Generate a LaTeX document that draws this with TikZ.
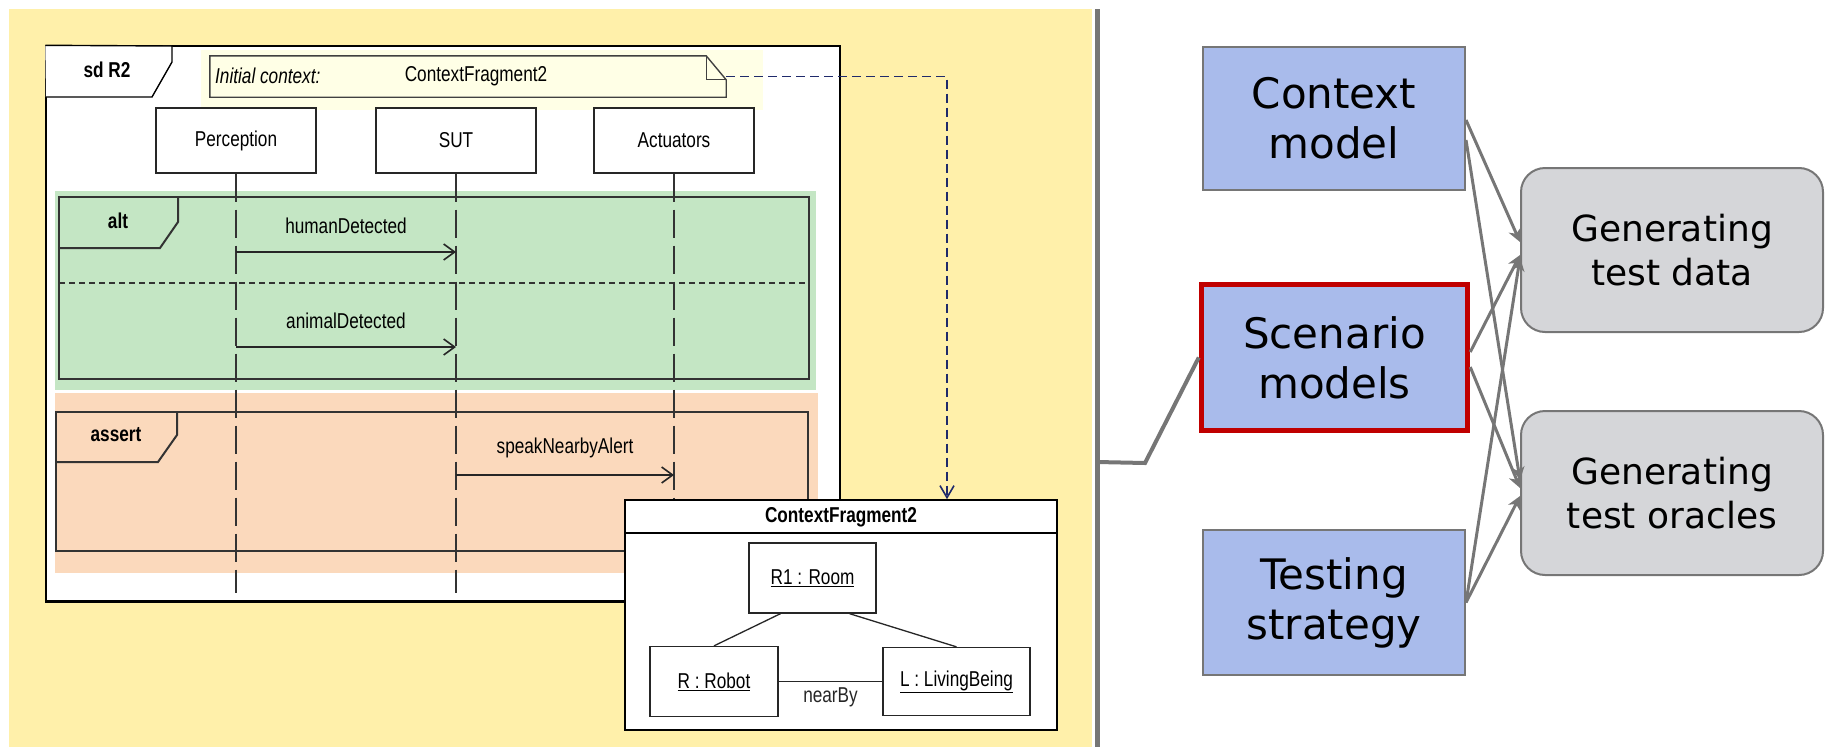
\documentclass[tikz,border=0pt]{standalone}
\usepackage{fontspec}
\usetikzlibrary{arrows.meta}
\newfontfamily\umlfont[FakeStretch=0.80]{Liberation Sans}
\newfontfamily\slidefont{DejaVu Sans}
\definecolor{slideyellow}{HTML}{FFF0AA}
\definecolor{altgreen}{HTML}{C4E6C4}
\definecolor{assertorange}{HTML}{FBD9BC}
\definecolor{notepale}{HTML}{FFFFE6}
\definecolor{modelblue}{HTML}{A9BBEB}
\definecolor{stepgray}{HTML}{D5D6D9}
\definecolor{linegray}{HTML}{767676}
\definecolor{focusred}{HTML}{C00000}
\definecolor{tracenavy}{HTML}{1F2A6B}

\begin{document}
\begin{tikzpicture}[
					x=1pt,y=-1pt,
					umltxt/.style={font=\umlfont\fontsize{21.5}{25}\selectfont,inner sep=0pt},
					umlbold/.style={umltxt,font=\umlfont\bfseries\fontsize{21.5}{25}\selectfont},
					lifehead/.style={umltxt,draw=black!85,line width=1.3pt,fill=white,minimum width=160pt,minimum height=65pt},
					lifeline/.style={draw=black!80,line width=1.2pt,dash pattern=on 28pt off 8pt},
					msg/.style={draw=black!85,line width=1.6pt,-{Straight Barb[length=11pt,width=16pt]}},
					fragline/.style={draw=black!80,line width=2pt},
					objbox/.style={umltxt,draw=black!85,line width=1.3pt,fill=white},
					modelbox/.style={draw=linegray,line width=2pt,fill=modelblue,align=center,font=\slidefont\fontsize{42}{50}\selectfont},
					genbox/.style={draw=linegray,line width=2pt,fill=stepgray,rounded corners=24pt,align=center,minimum width=302pt,minimum height=164pt,font=\slidefont\fontsize{36}{44}\selectfont},
					feed/.style={draw=linegray,line width=3pt,-{Stealth[length=13pt,width=13pt,inset=4pt]}}
					]
					\useasboundingbox (0,0) rectangle (1825,747);
					\fill[slideyellow] (9,9) rectangle (1092,747);
					% sequence diagram
					\node[draw=black,line width=1.4pt,fill=white,minimum width=794pt,minimum height=555pt,inner sep=0pt] (frame) at (443,323.5) {};
					\draw[line width=2.5pt] (frame.south west) -- (frame.south east);
					\fill[notepale] (201,50) rectangle (763,110);
					\draw[line width=1.4pt,fill=white] (frame.north west) -- (172,46) -- (172,62) -- (152,97) -- (46,97);
					\node[umlbold] (sdlbl) at (107,70) {sd R2};
					\node[minimum width=516pt,minimum height=41pt,inner sep=0pt] (note) at (468,76.5) {};
					\draw[black!75,line width=1.4pt,fill=notepale] (note.south west) -- (note.north west) -- ([xshift=-20pt]note.north east) -- ([yshift=-24pt]note.north east) -- (note.south east) -- cycle;
					\draw[black!75,line width=1.2pt] ([xshift=-20pt]note.north east) -- ([xshift=-20pt,yshift=-24pt]note.north east) -- ([yshift=-24pt]note.north east);
					\node[umltxt,font=\umlfont\itshape\fontsize{21.5}{25}\selectfont,anchor=west] (ictx) at (215,76) {Initial context:};
					\node[umltxt] (nfrag) at (476,76) {ContextFragment2};
					% fragments
					\fill[altgreen] (55,191) rectangle (816,390);
					\fill[assertorange] (55,393) rectangle (818,573);
					\draw[fragline] (59,197) rectangle (809,379);
					\draw[fragline] (59,248) -- (160,248) -- (178,222) -- (178,197);
					\node[umlbold] (altlbl) at (118,221) {alt};
					\draw[fragline,dash pattern=on 6pt off 4pt] (59,283) -- (809,283);
					\draw[fragline] (56,412) rectangle (808,551);
					\draw[fragline] (56,462) -- (158,462) -- (177,435) -- (177,412);
					\node[umlbold] (assertlbl) at (116,435) {assert};
					% lifelines
					\foreach \n/\x/\t in {perc/236/Perception,sut/456/SUT,act/674/Actuators}{
						\node[lifehead] (\n) at (\x,140.5) {\t};
						\draw[lifeline] (\n.south) -- ++(0,419);
					}
					\coordinate (m1) at (0,252);
					\coordinate (m2) at (0,347);
					\coordinate (m3) at (0,475);
					\draw[msg] (perc |- m1) -- node[umltxt,yshift=26pt] (hdlbl) {humanDetected} (sut |- m1);
					\draw[msg] (perc |- m2) -- node[umltxt,yshift=26pt] (adlbl) {animalDetected} (sut |- m2);
					\draw[msg] (sut |- m3) -- node[umltxt,yshift=27pt] (salbl) {speakNearbyAlert} (act |- m3);
					% context fragment
					\node[draw=black,line width=1.6pt,fill=white,minimum width=432pt,minimum height=230pt,inner sep=0pt] (cf) at (841,615) {};
					\draw[line width=1.6pt] ([yshift=-34pt]cf.north west) -- ([yshift=-34pt]cf.north east);
					\node[umlbold] (cftitle) at (841,517) {ContextFragment2};
					\node[objbox,minimum width=127pt,minimum height=70pt] (room) at (812.5,578) {\underline{R1 : Room}};
					\node[objbox,minimum width=128pt,minimum height=70pt] (robot) at (714,681.5) {\underline{R : Robot}};
					\node[objbox,minimum width=147pt,minimum height=68pt] (being) at (956.5,681.5) {\underline{L : LivingBeing}};
					\draw[black!85,line width=1.3pt] ([xshift=-32pt]room.south) -- (robot.north);
					\draw[black!85,line width=1.3pt] ([xshift=37pt]room.south) -- (being.north);
					\draw[black!85,line width=1.3pt] (robot.east) -- node[umltxt,below=6pt] (nearlbl) {nearBy} (being.west);
					\draw[tracenavy,line width=1.6pt,dash pattern=on 9pt off 5pt,-{Straight Barb[length=12pt,width=14pt]}] (note.east) -| ([xshift=106pt]cf.north);
					% models and activities
					\draw[linegray,line width=5pt] (1097,9) -- (1097,747);
					\node[modelbox,minimum width=262pt,minimum height=143pt] (ctx) at (1334,118.5) {Context\\model};
					\node[modelbox,draw=focusred,line width=5.5pt,minimum width=266pt,minimum height=146pt] (scen) at (1334.5,357.5) {Scenario\\models};
					\node[modelbox,minimum width=262pt,minimum height=145pt] (strat) at (1334,602.5) {Testing\\strategy};
					\node[genbox] (gdata) at (1672,250) {Generating\\test data};
					\node[genbox] (gorac) at (1672,493) {Generating\\test oracles};
					\coordinate (tap) at (1097,462);
					\draw[linegray,line width=4pt] (tap) -- (1145,463) -- (scen.west);
					\foreach \s/\sy/\g/\gy in {ctx/-1.5/gdata/8,ctx/-21.5/gorac/13,scen/5.5/gdata/-5,scen/-9.5/gorac/5,strat/0/gdata/-8,strat/0/gorac/-3}{
						\draw[feed] ([yshift=\sy pt]\s.east) -- ([yshift=\gy pt]\g.west);
					}
				\end{tikzpicture}
\end{document}
